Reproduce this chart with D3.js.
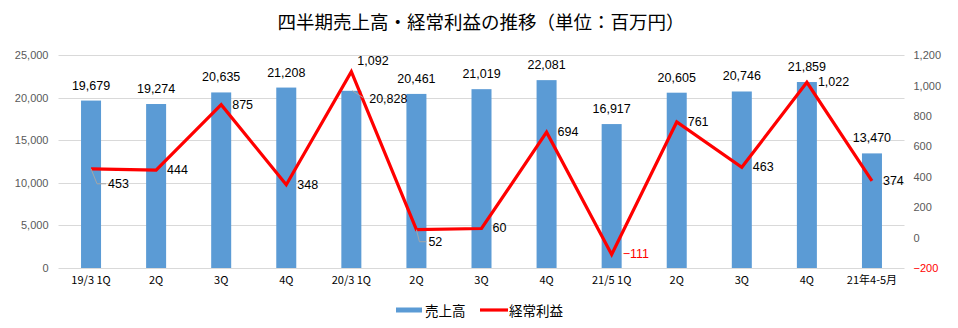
<!DOCTYPE html>
<html><head><meta charset="utf-8">
<script src="https://cdn.jsdelivr.net/npm/d3@7"></script>
<style>
html,body{margin:0;padding:0;background:#fff;}
svg{display:block;font-family:"Liberation Sans","Noto Sans CJK JP",sans-serif;}
.cjk{font-family:"Noto Sans CJK JP","Noto Sans CJK SC",sans-serif;}
</style></head>
<body>
<svg id="chart" width="958" height="328"></svg>
<script>
const title = "四半期売上高・経常利益の推移（単位：百万円）";
const categories = ["19/3 1Q","2Q","3Q","4Q","20/3 1Q","2Q ","3Q ","4Q ","21/5 1Q","2Q  ","3Q  ","4Q  ","21年4-5月"];
const sales = [19679,19274,20635,21208,20828,20461,21019,22081,16917,20605,20746,21859,13470];
const ordinaryProfit = [453,444,875,348,1092,52,60,694,-111,761,463,1022,374];
const leftTicks = [0,5000,10000,15000,20000,25000];
const rightTicks = [-200,0,200,400,600,800,1000,1200];
const seriesNames = ["売上高","経常利益"];

const svg = d3.select("#chart");
const W = 958, H = 328;
const plot = {left:58.5, right:904.5, top:55.3, bottom:268};

const x = d3.scaleBand().domain(categories).range([plot.left, plot.right]).padding(0);
const yL = d3.scaleLinear().domain([0,25000]).range([plot.bottom, plot.top]);
const yR = d3.scaleLinear().domain([-200,1200]).range([plot.bottom, plot.top]);
const barW = 20;
const cx = c => x(c) + x.bandwidth()/2;

// title
svg.append("text").attr("class","cjk").attr("x",481).attr("y",21)
  .attr("text-anchor","middle").attr("dominant-baseline","central")
  .attr("font-size",18.5).attr("fill","#000").text(title);

// gridlines
svg.append("g").selectAll("line").data(leftTicks).join("line")
  .attr("x1",plot.left).attr("x2",plot.right)
  .attr("y1",d=>Math.round(yL(d))+0.5).attr("y2",d=>Math.round(yL(d))+0.5)
  .attr("stroke","#D9D9D9").attr("stroke-width",1);

// left axis
const fmt = d3.format(",");
const gl = svg.append("g").attr("transform",`translate(${plot.left-10},0)`)
  .call(d3.axisLeft(yL).tickValues(leftTicks).tickFormat(fmt).tickSize(0).tickPadding(0));
gl.select(".domain").remove();
gl.selectAll("text").attr("font-size",11).attr("fill","#595959").attr("font-family","Liberation Sans, sans-serif");

// right axis
const gr = svg.append("g").attr("transform",`translate(${plot.right+9},0)`)
  .call(d3.axisRight(yR).tickValues(rightTicks).tickFormat(fmt).tickSize(0).tickPadding(0));
gr.select(".domain").remove();
gr.selectAll("text").attr("font-size",11).attr("fill",d=>d<0?"#FF0000":"#595959").attr("font-family","Liberation Sans, sans-serif");

// x axis labels
const gx = svg.append("g").attr("transform",`translate(0,${plot.bottom})`)
  .call(d3.axisBottom(x).tickSize(0).tickPadding(8));
gx.select(".domain").remove();
gx.selectAll("text").attr("font-size",11).attr("fill","#000").attr("class","cjk")
  .text(d=>d.trim());

// bars
svg.append("g").selectAll("rect").data(sales).join("rect")
  .attr("x",(d,i)=>cx(categories[i])-barW/2)
  .attr("width",barW)
  .attr("y",d=>yL(d))
  .attr("height",d=>plot.bottom-yL(d))
  .attr("fill","#5B9BD5");

// line
const line = d3.line().x((d,i)=>cx(categories[i])).y(d=>yR(d));
svg.append("path").datum(ordinaryProfit).attr("d",line)
  .attr("fill","none").attr("stroke","#FF0000").attr("stroke-width",3.2)
  .attr("stroke-linejoin","miter");

// bar labels
const barLabelShift = {4:{dx:37,dy:8,leader:true}};
const bl = svg.append("g");
sales.forEach((v,i)=>{
  const px = cx(categories[i]), py = yL(v);
  const s = barLabelShift[i];
  let tx = px, ty = py-15;
  if (s){
    tx = px + s.dx; ty = py + s.dy;
    bl.append("line").attr("x1",px+1).attr("y1",py).attr("x2",px+12).attr("y2",py+7)
      .attr("stroke","#A6A6A6").attr("stroke-width",1);
  }
  bl.append("text").attr("x",tx).attr("y",ty).attr("text-anchor","middle")
    .attr("dominant-baseline","central").attr("font-size",12.5).attr("fill","#000").text(fmt(v));
});

// line labels
const lineLabelShift = {0:{dx:17,dy:15,leader:true},4:{dx:6,dy:-11},5:{dx:12,dy:12,leader:true}};
const ll = svg.append("g");
ordinaryProfit.forEach((v,i)=>{
  const px = cx(categories[i]), py = yR(v);
  const s = lineLabelShift[i] || {dx:11,dy:0};
  const tx = px + s.dx, ty = py + s.dy;
  if (s.leader){
    ll.append("polyline").attr("points",`${px},${py} ${px+(s.dx>14?6:3)},${ty} ${tx-2},${ty}`)
      .attr("fill","none").attr("stroke","#A6A6A6").attr("stroke-width",1);
  }
  ll.append("text").attr("x",tx).attr("y",ty).attr("text-anchor","start")
    .attr("dominant-baseline","central").attr("font-size",12.5)
    .attr("fill",v<0?"#FF0000":"#000").text(v<0?"−"+fmt(-v):fmt(v));
});

// legend
const lg = svg.append("g");
lg.append("rect").attr("x",396).attr("y",307.5).attr("width",26).attr("height",5).attr("fill","#5B9BD5");
lg.append("text").attr("class","cjk").attr("x",425).attr("y",310).attr("dominant-baseline","central")
  .attr("font-size",13.5).attr("fill","#000").text(seriesNames[0]);
lg.append("line").attr("x1",480).attr("x2",508).attr("y1",310).attr("y2",310)
  .attr("stroke","#FF0000").attr("stroke-width",3.2);
lg.append("text").attr("class","cjk").attr("x",509).attr("y",310).attr("dominant-baseline","central")
  .attr("font-size",13.5).attr("fill","#000").text(seriesNames[1]);
</script>
</body></html>
